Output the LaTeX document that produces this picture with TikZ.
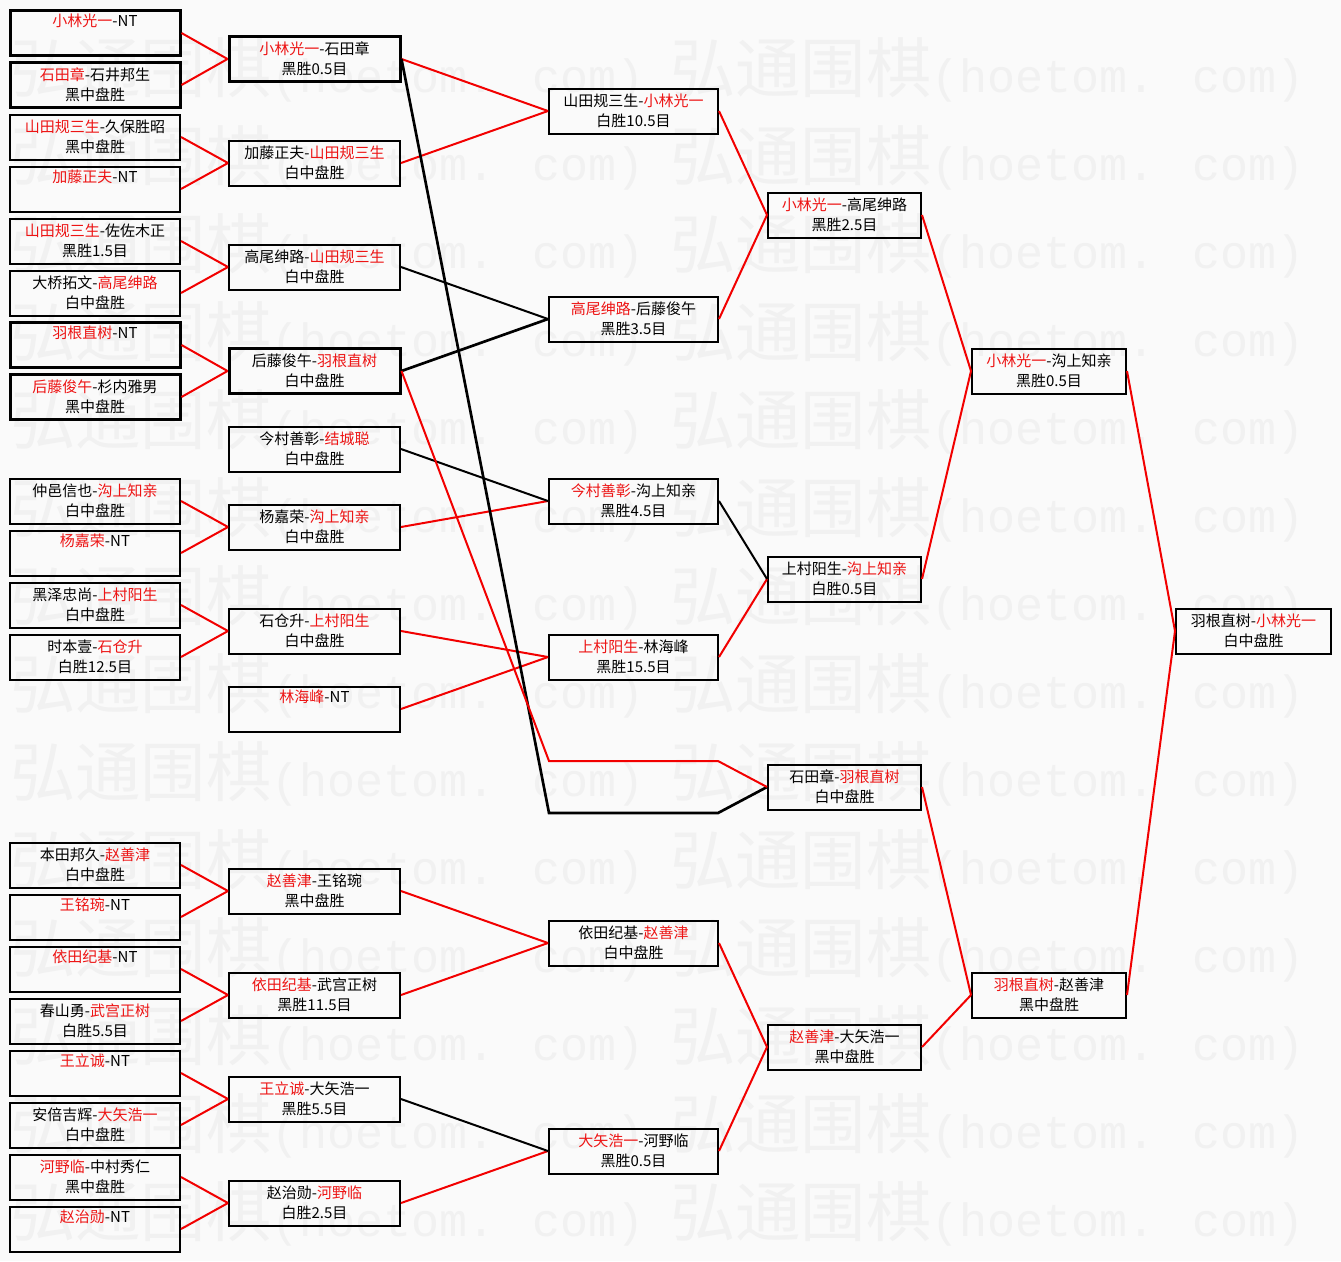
\documentclass[tikz,border=0pt]{standalone}
\usepackage{fontspec}
\setmainfont{Noto Sans CJK SC}
\newfontfamily\wmcjk{Noto Sans CJK SC}
\newfontfamily\wmlat{Liberation Mono}
\definecolor{bgc}{rgb}{0.98,0.98,0.98}
\definecolor{wmc}{rgb}{0.945,0.945,0.945}
\definecolor{winred}{rgb}{0.93,0.08,0.08}
\definecolor{linered}{rgb}{0.95,0,0}
\newcommand\W[1]{\textcolor{winred}{#1}}
\begin{document}
\begin{tikzpicture}[x=0.75pt,y=-0.75pt,
  box/.style={draw=black, line width=1.5pt, minimum height=33.75pt, inner sep=0pt,
    align=center, font=\fontsize{11.25}{15}\selectfont, text=black},
  thk/.style={line width=2.25pt},
  wa/.style={box, minimum width=127.5pt},
  wb/.style={box, minimum width=128.25pt},
  wc/.style={box, minimum width=126.75pt},
  wd/.style={box, minimum width=114.75pt},
  we/.style={box, minimum width=115.5pt},
  wf/.style={box, minimum width=116.25pt},
  rl/.style={draw=linered, line width=1.5pt, line join=miter},
  bl/.style={draw=black, line width=1.5pt, line join=miter},
  bbl/.style={draw=black, line width=2pt, line join=miter},
  wmk/.style={text=wmc, inner sep=0pt, anchor=west}
]
\fill[bgc] (0,0) rectangle (1341,1261);
\useasboundingbox (0,0) rectangle (1341,1261);
% watermark
\begin{scope}
\clip (0,0) rectangle (1341,1261);
\foreach \k in {0,...,13}{
  \foreach \xx [count=\i] in {10,670}{
    \node[wmk] (wm-\k-\i) at (\xx,{70+88*\k}) {{\wmcjk\fontsize{49}{49}\selectfont 弘通围棋}{\wmlat\fontsize{35}{35}\selectfont (hoetom. com)}};
  }
}
\end{scope}

% column 1
\node[wa,thk] (a0) at (95,33) {\W{小林光一}-NT\\ \strut};
\node[wa,thk] (a1) at (95,85) {\W{石田章}-石井邦生\\黑中盘胜};
\node[wa] (a2) at (95,137) {\W{山田规三生}-久保胜昭\\黑中盘胜};
\node[wa] (a3) at (95,189) {\W{加藤正夫}-NT\\ \strut};
\node[wa] (a4) at (95,241) {\W{山田规三生}-佐佐木正\\黑胜1.5目};
\node[wa] (a5) at (95,293) {大桥拓文-\W{高尾绅路}\\白中盘胜};
\node[wa,thk] (a6) at (95,345) {\W{羽根直树}-NT\\ \strut};
\node[wa,thk] (a7) at (95,397) {\W{后藤俊午}-杉内雅男\\黑中盘胜};
\node[wa] (a9) at (95,501) {仲邑信也-\W{沟上知亲}\\白中盘胜};
\node[wa] (a10) at (95,553) {\W{杨嘉荣}-NT\\ \strut};
\node[wa] (a11) at (95,605) {黑泽忠尚-\W{上村阳生}\\白中盘胜};
\node[wa] (a12) at (95,657) {时本壹-\W{石仓升}\\白胜12.5目};
\node[wa] (a16) at (95,865) {本田邦久-\W{赵善津}\\白中盘胜};
\node[wa] (a17) at (95,917) {\W{王铭琬}-NT\\ \strut};
\node[wa] (a18) at (95,969) {\W{依田纪基}-NT\\ \strut};
\node[wa] (a19) at (95,1021) {春山勇-\W{武宫正树}\\白胜5.5目};
\node[wa] (a20) at (95,1073) {\W{王立诚}-NT\\ \strut};
\node[wa] (a21) at (95,1125) {安倍吉辉-\W{大矢浩一}\\白中盘胜};
\node[wa] (a22) at (95,1177) {\W{河野临}-中村秀仁\\黑中盘胜};
\node[wa] (a23) at (95,1229) {\W{赵治勋}-NT\\ \strut};

% column 2
\node[wb,thk] (b1) at (314.5,59) {\W{小林光一}-石田章\\黑胜0.5目};
\node[wb] (b2) at (314.5,163) {加藤正夫-\W{山田规三生}\\白中盘胜};
\node[wb] (b3) at (314.5,267) {高尾绅路-\W{山田规三生}\\白中盘胜};
\node[wb,thk] (b4) at (314.5,371) {后藤俊午-\W{羽根直树}\\白中盘胜};
\node[wb] (b5) at (314.5,449) {今村善彰-\W{结城聪}\\白中盘胜};
\node[wb] (b6) at (314.5,527) {杨嘉荣-\W{沟上知亲}\\白中盘胜};
\node[wb] (b7) at (314.5,631) {石仓升-\W{上村阳生}\\白中盘胜};
\node[wb] (b8) at (314.5,709) {\W{林海峰}-NT\\ \strut};
\node[wb] (b9) at (314.5,891) {\W{赵善津}-王铭琬\\黑中盘胜};
\node[wb] (b10) at (314.5,995) {\W{依田纪基}-武宫正树\\黑胜11.5目};
\node[wb] (b11) at (314.5,1099) {\W{王立诚}-大矢浩一\\黑胜5.5目};
\node[wb] (b12) at (314.5,1203) {赵治勋-\W{河野临}\\白胜2.5目};

% column 3
\node[wc] (c1) at (633.5,111) {山田规三生-\W{小林光一}\\白胜10.5目};
\node[wc] (c2) at (633.5,319) {\W{高尾绅路}-后藤俊午\\黑胜3.5目};
\node[wc] (c3) at (633.5,501) {\W{今村善彰}-沟上知亲\\黑胜4.5目};
\node[wc] (c4) at (633.5,657) {\W{上村阳生}-林海峰\\黑胜15.5目};
\node[wc] (c5) at (633.5,943) {依田纪基-\W{赵善津}\\白中盘胜};
\node[wc] (c6) at (633.5,1151) {\W{大矢浩一}-河野临\\黑胜0.5目};
\coordinate (q1) at (549,761);
\coordinate (q2) at (718,761);
\coordinate (p1) at (549,813);
\coordinate (p2) at (718,813);

% column 4
\node[wd] (d1) at (844.5,215) {\W{小林光一}-高尾绅路\\黑胜2.5目};
\node[wd] (d2) at (844.5,579) {上村阳生-\W{沟上知亲}\\白胜0.5目};
\node[wd] (d3) at (844.5,787) {石田章-\W{羽根直树}\\白中盘胜};
\node[wd] (d4) at (844.5,1047) {\W{赵善津}-大矢浩一\\黑中盘胜};

% column 5
\node[we] (e1) at (1049,371) {\W{小林光一}-沟上知亲\\黑胜0.5目};
\node[we] (e2) at (1049,995) {\W{羽根直树}-赵善津\\黑中盘胜};

% column 6
\node[wf] (f1) at (1253.5,631) {羽根直树-\W{小林光一}\\白中盘胜};

% connectors col1 -> col2
\foreach \s/\t in {a0/b1,a1/b1,a2/b2,a3/b2,a4/b3,a5/b3,a6/b4,a7/b4,a9/b6,a10/b6,a11/b7,a12/b7,a16/b9,a17/b9,a18/b10,a19/b10,a20/b11,a21/b11,a22/b12,a23/b12}
  \draw[rl] (\s.east) -- (\t.west);
% col2 -> col3
\foreach \s/\t in {b1/c1,b2/c1,b6/c3,b7/c4,b8/c4,b9/c5,b10/c5,b12/c6}
  \draw[rl] (\s.east) -- (\t.west);
\foreach \s/\t in {b3/c2,b5/c3,b11/c6}
  \draw[bl] (\s.east) -- (\t.west);
\draw[bbl] (b4.east) -- (c2.west);
\draw[bbl] (b1.east) -- (p1) -- (p2) -- (d3.west);
\draw[rl] (b4.east) -- (q1) -- (q2) -- (d3.west);
% col3 -> col4
\foreach \s/\t in {c1/d1,c2/d1,c4/d2,c5/d4,c6/d4}
  \draw[rl] (\s.east) -- (\t.west);
\draw[bl] (c3.east) -- (d2.west);
% col4 -> col5
\foreach \s/\t in {d1/e1,d2/e1,d3/e2,d4/e2}
  \draw[rl] (\s.east) -- (\t.west);
% col5 -> col6
\foreach \s/\t in {e1/f1,e2/f1}
  \draw[rl] (\s.east) -- (\t.west);
\end{tikzpicture}
\end{document}
